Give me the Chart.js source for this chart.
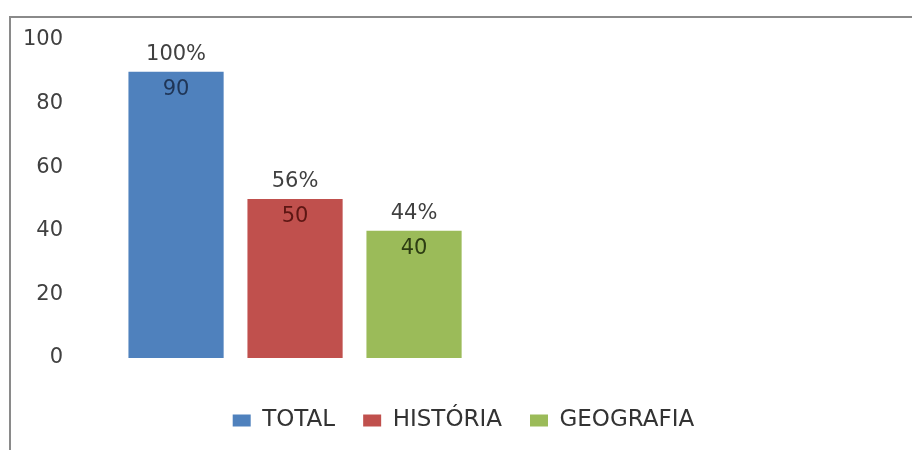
<!DOCTYPE html>
<html>
<head>
<meta charset="utf-8">
<script src="https://cdn.jsdelivr.net/npm/chart.js@4"></script>
<style>
  body { margin: 0; background: #fff; }
  #moldura {
    position: absolute;
    left: 9px;
    top: 16px;
    width: 903px;
    height: 434px;
    box-sizing: border-box;
    border-left: 2px solid #8a8a8a;
    border-top: 2px solid #8a8a8a;
  }
</style>
</head>
<body>
<div id="moldura"><canvas id="grafico"></canvas></div>
<script>
const categorias = ['TOTAL', 'HISTÓRIA', 'GEOGRAFIA'];
const valores = [90, 50, 40];
const percentuais = ['100%', '56%', '44%'];
const cores = ['#4F81BD', '#C0504D', '#9BBB59'];
const coresRotulo = ['#1f3556', '#5c1613', '#2c3c12'];

// rotulos: percentual acima da barra, valor dentro dela
const rotulos = {
    id: 'rotulos',
    afterDatasetsDraw(chart) {
        const ctx = chart.ctx;
        chart.data.datasets.forEach((ds, i) => {
            const barra = chart.getDatasetMeta(i).data[0];
            ctx.save();
            ctx.font = '21px "DejaVu Sans"';
            ctx.textAlign = 'center';
            ctx.textBaseline = 'middle';
            ctx.fillStyle = '#404040';
            ctx.fillText(percentuais[i], barra.x, barra.y - 17);
            ctx.fillStyle = coresRotulo[i];
            ctx.fillText(ds.data[0], barra.x, barra.y + 18);
            ctx.restore();
        });
    }
};

const grafico = document.getElementById('grafico');

new Chart(grafico, {
    type: 'bar',
    data: {
        labels: [''],
        datasets: categorias.map((c, i) => ({
            label: c,
            data: [valores[i]],
            backgroundColor: cores[i],
            borderWidth: 0,
            barPercentage: 0.8,
            categoryPercentage: 0.797
        }))
    },
    options: {
        maintainAspectRatio: false,
        animation: false,
        layout: {
            padding: { top: 22, left: 4, right: 0, bottom: 8 }
        },
        scales: {
            x: {
                grid: { display: false },
                border: { display: false },
                ticks: { display: false },
                afterFit(scale) { scale.height = 23; }
            },
            y: {
                min: 0,
                max: 100,
                grid: { display: false, drawTicks: false },
                border: { display: false },
                ticks: {
                    stepSize: 20,
                    padding: 8,
                    color: '#404040',
                    font: { family: 'DejaVu Sans', size: 21 }
                }
            },
            vazio: {
                type: 'linear',
                position: 'right',
                grid: { display: false, drawTicks: false },
                border: { display: false },
                ticks: { display: false },
                afterFit(scale) { scale.width = 393; }
            }
        },
        plugins: {
            tooltip: { enabled: false },
            legend: {
                position: 'bottom',
                labels: {
                    boxWidth: 18,
                    boxHeight: 12,
                    padding: 28,
                    color: '#333333',
                    font: { family: 'DejaVu Sans', size: 23 }
                }
            }
        }
    },
    plugins: [rotulos]
});
</script>
</body>
</html>
